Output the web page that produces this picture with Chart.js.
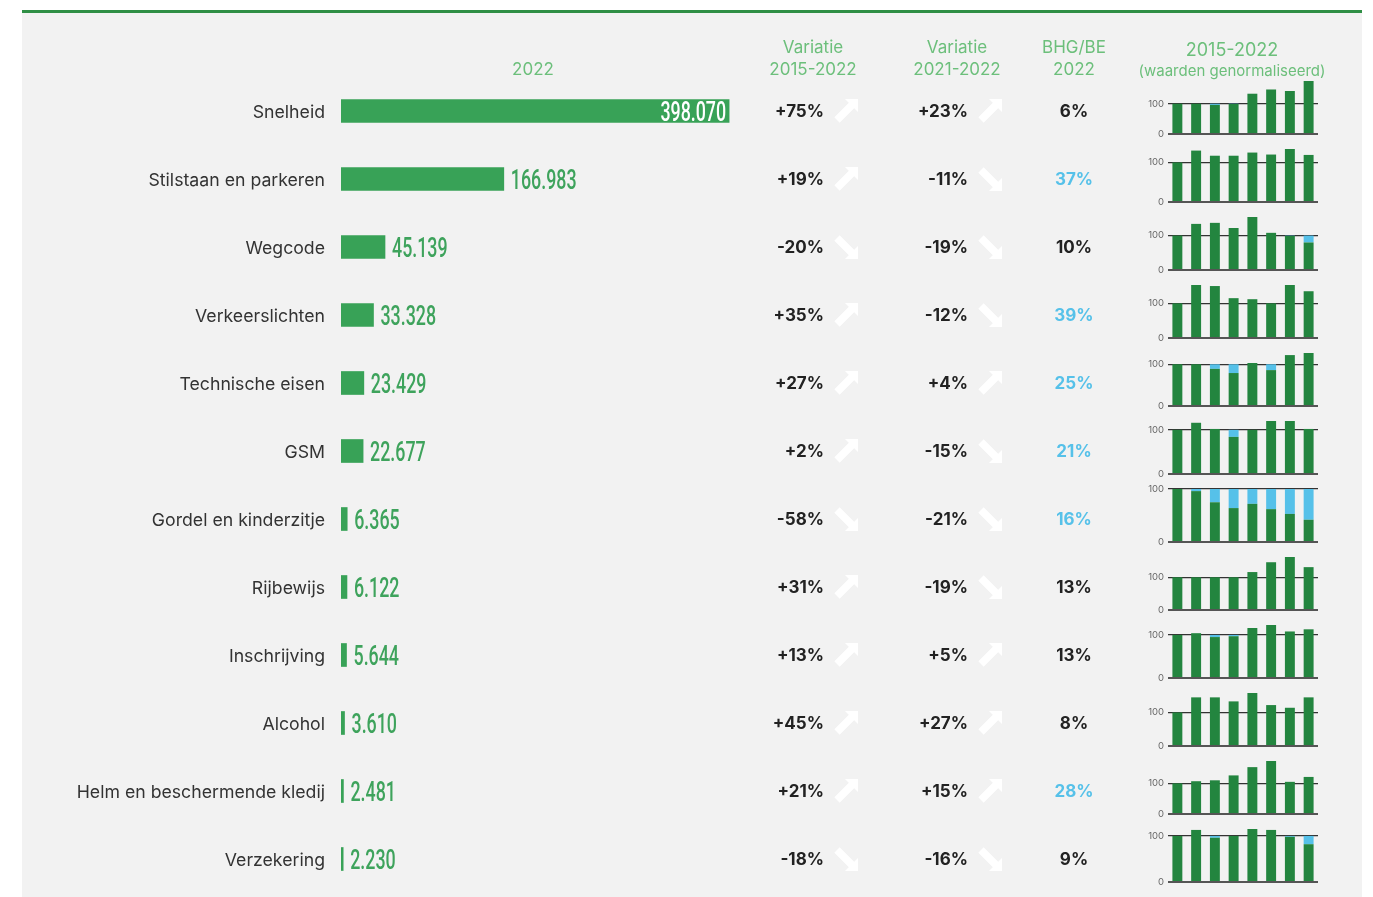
<!DOCTYPE html>
<html lang="nl">
<head>
<meta charset="UTF-8">
<title>Verkeersovertredingen 2022</title>
<script src="https://cdn.jsdelivr.net/npm/chart.js@4.4.0/dist/chart.umd.min.js"></script>
<style>
  html, body { margin: 0; padding: 0; background: #fff; }
  body { width: 1373px; height: 897px; overflow: hidden; position: relative; }
  #panel { position: absolute; left: 22px; top: 10px; width: 1340px; height: 887px;
           background: #f2f2f2; border-top: 3px solid #2f8f45; box-sizing: border-box; }
  #main { position: absolute; left: 22px; top: 10px; }
  .spark { position: absolute; left: 1140px; }
</style>
</head>
<body>
<div id="panel"></div>
<canvas id="main" width="1340" height="887"></canvas>
<script>
// --- data ---------------------------------------------------------------
const categories = ['Snelheid', 'Stilstaan en parkeren', 'Wegcode', 'Verkeerslichten',
  'Technische eisen', 'GSM', 'Gordel en kinderzitje', 'Rijbewijs', 'Inschrijving',
  'Alcohol', 'Helm en beschermende kledij', 'Verzekering'];
const fines2022 = [398070, 166983, 45139, 33328, 23429, 22677, 6365, 6122, 5644, 3610, 2481, 2230];
const change2015 = [75, 19, -20, 35, 27, 2, -58, 31, 13, 45, 21, -18];
const change2021 = [23, -11, -19, -12, 4, -15, -21, -19, 5, 27, 15, -16];
const shareBHG = [6, 37, 10, 39, 25, 21, 16, 13, 13, 8, 28, 9];
const shareHigh = [false, true, false, true, true, true, true, false, false, false, true, false];
const years = ['2015', '2016', '2017', '2018', '2019', '2020', '2021', '2022'];
// index 2015 = 100
const trend = [
  [100, 100, 96, 99, 133, 147, 142, 175],
  [100, 130, 117, 117, 125, 120, 134, 119],
  [100, 134, 137, 122, 154, 108, 99, 80],
  [100, 153, 150, 115, 112, 100, 153, 135],
  [100, 100, 89, 79, 103, 86, 122, 127],
  [100, 116, 102, 84, 100, 120, 120, 102],
  [100, 96, 75, 64, 72, 62, 53, 42],
  [100, 100, 100, 100, 116, 146, 162, 131],
  [100, 104, 95, 97, 116, 123, 108, 113],
  [100, 145, 145, 133, 158, 122, 114, 145],
  [100, 107, 110, 126, 153, 173, 105, 121],
  [100, 113, 96, 100, 115, 113, 98, 82]
];

// --- styling ------------------------------------------------------------
const BAR_GREEN = '#38a257';
const NUM_GREEN = '#3ea35c';
const HEAD_GREEN = '#6cbf7b';
const SPARK_GREEN = '#23853f';
const BLUE = '#56c1e9';
const INK = '#222';
const FONT = 'Inter, "Noto Sans", sans-serif';

// canvas origin on the page
const OX = 22, OY = 10;

const fmtThousands = v => String(v).replace(/\B(?=(\d{3})+(?!\d))/g, '.');
const fmtPct = v => (v > 0 ? '+' : '') + v + '%';

// narrow numerals, squeezed horizontally
function narrowText(ctx, text, x, y, align, color) {
  const sx = 0.66;
  ctx.save();
  ctx.font = '500 27px Roboto';
  ctx.fillStyle = color;
  ctx.textBaseline = 'alphabetic';
  ctx.textAlign = 'left';
  const w = ctx.measureText(text).width * sx;
  ctx.translate(align === 'right' ? x - w : x, y);
  ctx.scale(sx, 1);
  ctx.fillText(text, 0, 0);
  ctx.restore();
}

// white 45° arrow in a 24px box, (x, y) = top-left
function arrow(ctx, x, y, up) {
  ctx.save();
  ctx.translate(x, up ? y : y + 24);
  if (!up) ctx.scale(1, -1);
  ctx.fillStyle = '#fff';
  ctx.strokeStyle = '#fff';
  ctx.beginPath();
  ctx.moveTo(24, 0);
  ctx.lineTo(24, 13);
  ctx.lineTo(11, 0);
  ctx.closePath();
  ctx.fill();
  ctx.lineWidth = 7.5;
  ctx.beginPath();
  ctx.moveTo(3, 21);
  ctx.lineTo(19, 5);
  ctx.stroke();
  ctx.restore();
}

const columnsPlugin = {
  id: 'columns',
  afterDatasetsDraw(chart) {
    const ctx = chart.ctx;
    const bars = chart.getDatasetMeta(0).data;
    ctx.save();

    // headers
    ctx.fillStyle = HEAD_GREEN;
    ctx.textAlign = 'center';
    ctx.textBaseline = 'middle';
    ctx.font = '17px ' + FONT;
    ctx.fillText('2022', 533 - OX, 70 - OY);
    ctx.fillText('Variatie', 813 - OX, 48 - OY);
    ctx.fillText('2015-2022', 813 - OX, 70 - OY);
    ctx.fillText('Variatie', 957 - OX, 48 - OY);
    ctx.fillText('2021-2022', 957 - OX, 70 - OY);
    ctx.fillText('BHG/BE', 1074 - OX, 48 - OY);
    ctx.fillText('2022', 1074 - OX, 70 - OY);
    ctx.font = '18px ' + FONT;
    ctx.fillText('2015-2022', 1232 - OX, 51 - OY);
    ctx.font = '15px ' + FONT;
    ctx.fillText('(waarden genormaliseerd)', 1232 - OX, 71 - OY);

    bars.forEach((bar, i) => {
      const y = bar.y;
      const label = fmtThousands(fines2022[i]);
      if (bar.x - bar.base > 200) {
        narrowText(ctx, label, bar.x - 3, y + 9.5, 'right', '#fff');
      } else {
        narrowText(ctx, label, bar.x + 7, y + 9.5, 'left', NUM_GREEN);
      }

      ctx.font = 'bold 17px ' + FONT;
      ctx.textBaseline = 'middle';
      ctx.fillStyle = INK;
      ctx.textAlign = 'right';
      ctx.fillText(fmtPct(change2015[i]), 824 - OX, y + 1);
      arrow(ctx, 834 - OX, y - 12, change2015[i] >= 0);
      ctx.fillStyle = INK;
      ctx.fillText(fmtPct(change2021[i]), 968 - OX, y + 1);
      arrow(ctx, 978 - OX, y - 12, change2021[i] >= 0);

      ctx.textAlign = 'center';
      ctx.fillStyle = shareHigh[i] ? BLUE : INK;
      ctx.fillText(shareBHG[i] + '%', 1074 - OX, y + 1);
    });
    ctx.restore();
  }
};

new Chart(document.getElementById('main'), {
  type: 'bar',
  data: {
    labels: categories,
    datasets: [{
      data: fines2022,
      backgroundColor: BAR_GREEN,
      barThickness: 23
    }]
  },
  options: {
    indexAxis: 'y',
    responsive: false,
    animation: false,
    events: [],
    layout: { padding: { top: 67, bottom: 4, left: 0, right: 631 } },
    plugins: { legend: { display: false }, tooltip: { enabled: false } },
    scales: {
      x: { display: false, min: 0, max: 400000 },
      y: {
        grid: { display: false, drawTicks: false },
        border: { display: false },
        ticks: { color: '#333', padding: 16, labelOffset: 2, font: { family: FONT, size: 17.7 } },
        afterFit: s => { s.width = 319; s.paddingTop = 0; s.paddingBottom = 0; }
      }
    }
  },
  plugins: [columnsPlugin]
});

// --- small trend charts ------------------------------------------------
trend.forEach((vals, i) => {
  const baseline = 111 + 68 * i + 22;
  const c = document.createElement('canvas');
  c.width = 180;
  c.height = 64;
  c.className = 'spark';
  c.style.top = (baseline - 59) + 'px';
  document.body.appendChild(c);

  new Chart(c, {
    type: 'bar',
    data: {
      labels: years,
      datasets: [
        { data: vals, backgroundColor: SPARK_GREEN, barPercentage: 0.53, categoryPercentage: 1 },
        { data: vals.map(v => Math.max(0, 100 - v)), backgroundColor: BLUE, barPercentage: 0.53, categoryPercentage: 1 }
      ]
    },
    options: {
      responsive: false,
      animation: false,
      events: [],
      layout: { padding: { top: 7, bottom: 4, left: 0, right: 2 } },
      plugins: { legend: { display: false }, tooltip: { enabled: false } },
      scales: {
        x: { stacked: true, display: false },
        y: {
          stacked: true,
          min: 0,
          max: Math.max(100, ...vals),
          z: 1,
          border: { display: false },
          grid: {
            drawTicks: false,
            color: ctx => ctx.tick && ctx.tick.value === 0 ? '#555' : '#333',
            lineWidth: ctx => ctx.tick && ctx.tick.value === 0 ? 2 : 1.3
          },
          ticks: { color: '#666', padding: 4, font: { family: FONT, size: 9.5 } },
          afterBuildTicks: s => { s.ticks = [{ value: 0 }, { value: 100 }]; },
          afterFit: s => { s.width = 28; s.paddingTop = 0; s.paddingBottom = 0; }
        }
      }
    }
  });
});
</script>
</body>
</html>
